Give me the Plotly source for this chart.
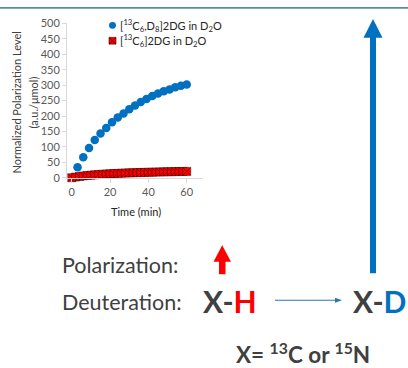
import plotly.graph_objects as go

# ---- data ----
time_blue = [3, 6, 9, 12, 15, 18, 21, 24, 27, 30, 33, 36, 39, 42, 45, 48, 51, 54, 57, 60]
pol_blue = [34, 66, 96, 122, 143, 161, 180, 195, 208, 222, 234, 245, 255, 265, 273, 280, 286, 293, 298, 302]
err_blue = [3, 3, 4, 4, 4, 5, 5, 5, 5, 6, 6, 6, 6, 6, 6, 6, 6, 6, 6, 6]

time_red = [0, 2, 4, 6, 8, 10, 12, 14, 16, 18, 20, 22, 24, 26, 28, 30,
            32, 34, 36, 38, 40, 42, 44, 46, 48, 50, 52, 54, 56, 58, 60]
pol_red = [0.0, 2.3, 4.2, 5.8, 7.2, 8.4, 9.5, 10.5, 11.4, 12.2, 13.0,
           13.6, 14.2, 14.8, 15.3, 15.8, 16.2, 16.6, 17.0, 17.4, 17.8,
           18.1, 18.5, 18.8, 19.1, 19.4, 19.6, 19.9, 20.1, 20.4, 20.6]

x_ticks = [0, 20, 40, 60]
y_ticks = [0, 50, 100, 150, 200, 250, 300, 350, 400, 450, 500]

W, H = 408, 368


def px(x):
    return x / W


def py(y):
    return 1 - y / H


BLUE = "#0070C0"
RED = "#FF0000"
DARK = "#404040"
FONT = "Lato"
HATCH = "#3a0000"

fig = go.Figure()

fig.add_trace(go.Scatter(
    x=time_red, y=pol_red, mode="markers",
    marker=dict(symbol="square-x", size=8, color=RED,
                line=dict(color=HATCH, width=0.5)),
    cliponaxis=False, showlegend=False))

fig.add_trace(go.Scatter(
    x=time_blue, y=pol_blue, mode="markers",
    marker=dict(symbol="circle", size=8.5, color=BLUE),
    error_y=dict(type="data", array=err_blue, color="#000000", thickness=1, width=3),
    cliponaxis=False, showlegend=False))

axis_common = dict(showgrid=False, zeroline=False, showline=True, linecolor="#d9d9d9",
                   linewidth=1, ticks="outside", tickcolor="#d9d9d9", ticklen=4,
                   tickfont=dict(family=FONT, size=11, color="#595959"))

fig.update_layout(
    width=W, height=H,
    margin=dict(l=0, r=0, t=0, b=0),
    paper_bgcolor="white", plot_bgcolor="white",
    xaxis=dict(domain=[px(67), px(203)], range=[-2.5, 68.5],
               tickvals=x_ticks, **axis_common),
    yaxis=dict(domain=[py(177), py(17)], range=[0, 500],
               tickvals=y_ticks, **axis_common),
    showlegend=False,
)

annotations = []
shapes = []


def note(x, y, text, font, xanchor="center", yanchor="middle", **kw):
    annotations.append(dict(xref="paper", yref="paper", x=px(x), y=py(y), text=text,
                            showarrow=False, xanchor=xanchor, yanchor=yanchor,
                            font=font, borderpad=0, **kw))


# top border line
shapes.append(dict(type="rect", xref="paper", yref="paper", x0=0, x1=1,
                   y0=py(1.8), y1=1, fillcolor="#5b8c9b", line=dict(width=0)))

# axis titles
title_font = dict(family=FONT, size=11, color=DARK)
note(17, 99, "Normalized Polarization Level", title_font, textangle=-90)
note(34, 99, "(a.u./μmol)", title_font, textangle=-90)
note(136, 212, "Time (min)", dict(family=FONT, size=11, color="#262626"))

# manual legend
legend_font = dict(family=FONT, size=11, color="#262626")
note(119, 19, "[<sup>13</sup>C<sub>6</sub>,D<sub>8</sub>]2DG in D<sub>2</sub>O", legend_font, xanchor="left")
note(119, 35, "[<sup>13</sup>C<sub>6</sub>]2DG in D<sub>2</sub>O", legend_font, xanchor="left")
shapes.append(dict(type="circle", xref="paper", yref="paper",
                   x0=px(109), x1=px(116), y0=py(22.5), y1=py(15.5),
                   fillcolor=BLUE, line=dict(width=0)))
shapes.append(dict(type="rect", xref="paper", yref="paper",
                   x0=px(109), x1=px(116), y0=py(38.5), y1=py(31.5),
                   fillcolor=RED, line=dict(color=HATCH, width=0.6)))
shapes.append(dict(type="path", xref="paper", yref="paper",
                   path=f"M {px(109)} {py(31.5)} L {px(116)} {py(38.5)} M {px(116)} {py(31.5)} L {px(109)} {py(38.5)}",
                   line=dict(color=HATCH, width=0.6)))

# bottom texts
note(61, 267, "Polarization:", dict(family=FONT, size=21.5, color=DARK), xanchor="left")
note(61, 306, "Deuteration:", dict(family=FONT, size=21.5, color=DARK), xanchor="left")
note(202, 305, f"<b>X-<span style='color:{RED}'>H</span></b>",
     dict(family=FONT, size=30, color=DARK), xanchor="left")
note(352, 305, f"<b>X-<span style='color:{BLUE}'>D</span></b>",
     dict(family=FONT, size=30, color=DARK), xanchor="left")
note(303, 359, "<b>X= <sup>13</sup>C or <sup>15</sup>N</b>", dict(family=FONT, size=22.5, color=DARK))

# thin horizontal arrow
shapes.append(dict(type="line", xref="paper", yref="paper",
                   x0=px(275), x1=px(337), y0=py(304), y1=py(304),
                   line=dict(color="#2E75B6", width=1)))
shapes.append(dict(type="path", xref="paper", yref="paper",
                   path=f"M {px(342)} {py(304)} L {px(335)} {py(301.5)} L {px(335)} {py(306.5)} Z",
                   fillcolor="#2E75B6", line=dict(width=0)))

# red arrow
shapes.append(dict(type="rect", xref="paper", yref="paper",
                   x0=px(219), x1=px(225.5), y0=py(277), y1=py(263),
                   fillcolor=RED, line=dict(width=0)))
shapes.append(dict(type="path", xref="paper", yref="paper",
                   path=f"M {px(222.2)} {py(247)} L {px(213.5)} {py(264)} L {px(231)} {py(264)} Z",
                   fillcolor=RED, line=dict(width=0)))

# big blue arrow
shapes.append(dict(type="rect", xref="paper", yref="paper",
                   x0=px(370), x1=px(376), y0=py(276), y1=py(31),
                   fillcolor=BLUE, line=dict(width=0)))
shapes.append(dict(type="path", xref="paper", yref="paper",
                   path=f"M {px(373)} {py(12.5)} L {px(363.5)} {py(32)} L {px(382.5)} {py(32)} Z",
                   fillcolor=BLUE, line=dict(width=0)))

fig.update_layout(annotations=annotations, shapes=shapes)

fig.write_html("out.html", config={"displayModeBar": False},
               post_script="document.body.style.margin='0';document.body.style.padding='0';")
